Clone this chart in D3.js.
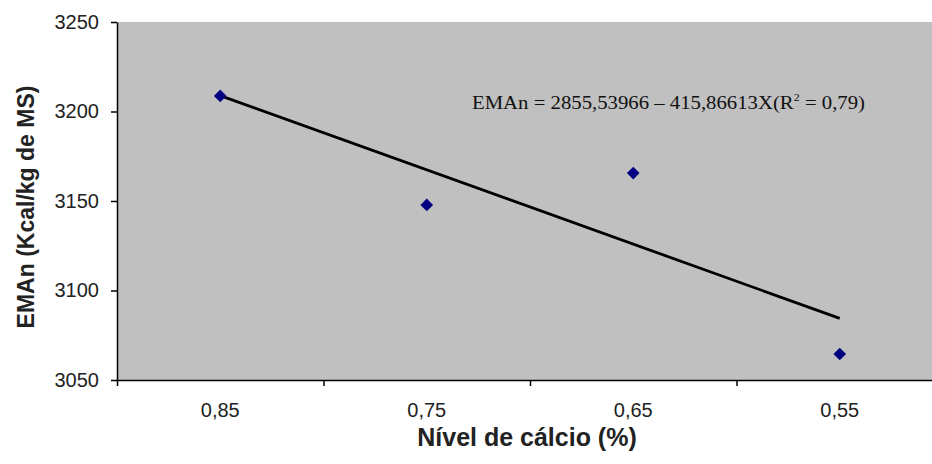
<!DOCTYPE html>
<html lang="pt">
<head>
  <meta charset="UTF-8">
  <title>EMAn x Nível de cálcio</title>
  <script src="https://d3js.org/d3.v7.min.js"></script>
  <style>
    body { margin: 0; background: #fff; }
    svg text { font-family: "Liberation Sans", Arial, sans-serif; fill: #222; }
    .axis path, .axis line { stroke: #000; stroke-width: 1.5; }
  </style>
</head>
<body>
  <svg id="chart" width="932" height="464"></svg>

  <script>
    // data
    const categories = ["0,85", "0,75", "0,65", "0,55"];
    const emanValues = [3208.7, 3147.8, 3165.6, 3064.5];
    const yTicks = [3050, 3100, 3150, 3200, 3250];
    const xTitle = "Nível de cálcio (%)";
    const yTitle = "EMAn (Kcal/kg de MS)";

    const svg = d3.select("#chart"),
      margin = {top: 22, right: -11, bottom: 84, left: 117},
      width = +svg.attr("width") - margin.left - margin.right,
      height = +svg.attr("height") - margin.top - margin.bottom;

    const chart = svg.append("g")
      .attr("transform", `translate(${margin.left},${margin.top})`);

    const x = d3.scaleBand().domain(categories).range([0, width]);
    const xEdges = d3.scaleLinear().domain([0, categories.length]).range([0, width]);
    const y = d3.scaleLinear().domain([3050, 3250]).range([height, 0]);

    chart.append("rect")
      .attr("width", width).attr("height", height)
      .attr("fill", "#c0c0c0");

    // category tick marks sit between the categories
    chart.append("g")
      .attr("class", "axis")
      .attr("transform", `translate(0,${height})`)
      .call(d3.axisBottom(xEdges).ticks(categories.length).tickSize(6).tickSizeOuter(0).tickFormat(""));

    chart.append("g")
      .attr("transform", `translate(0,${height})`)
      .call(d3.axisBottom(x).tickSize(0).tickPadding(23))
      .call(g => g.select(".domain").remove())
      .selectAll("text")
      .style("font-size", "20px");

    chart.append("g")
      .attr("class", "axis")
      .call(d3.axisLeft(y).tickValues(yTicks).tickFormat(d3.format("d"))
        .tickSize(6).tickSizeOuter(0).tickPadding(12))
      .selectAll("text")
      .style("font-size", "20px");

    // linear trend over category positions 1..n (like the spreadsheet trendline)
    const pts = emanValues.map((v, i) => [i + 1, v]);
    const mx = d3.mean(pts, p => p[0]), my = d3.mean(pts, p => p[1]);
    const slope = d3.sum(pts, p => (p[0] - mx) * (p[1] - my)) / d3.sum(pts, p => (p[0] - mx) ** 2);
    const fit = i => my + slope * (i + 1 - mx);

    const cx = c => x(c) + x.bandwidth() / 2;
    const first = 0, last = categories.length - 1;

    chart.append("line")
      .attr("x1", cx(categories[first])).attr("y1", y(fit(first)))
      .attr("x2", cx(categories[last])).attr("y2", y(fit(last)))
      .attr("stroke", "#000").attr("stroke-width", 2.8);

    chart.selectAll(".pt")
      .data(categories.map((c, i) => ({c, v: emanValues[i]})))
      .enter().append("path")
      .attr("class", "pt")
      .attr("d", d3.symbol(d3.symbolSquare, 80))
      .attr("transform", d => `translate(${cx(d.c)},${y(d.v)}) rotate(45)`)
      .attr("fill", "#000080");

    const eq = chart.append("text")
      .attr("x", 355).attr("y", 87)
      .attr("textLength", 393)
      .attr("lengthAdjust", "spacingAndGlyphs")
      .style("font-family", "'Liberation Serif', 'Times New Roman', serif")
      .style("font-size", "19px")
      .style("fill", "#111");
    eq.append("tspan").text("EMAn = 2855,53966 \u2013 415,86613X(R");
    eq.append("tspan").attr("dy", -8).style("font-size", "11px").text("2");
    eq.append("tspan").attr("dy", 8).text(" = 0,79)");

    svg.append("text")
      .attr("x", 527).attr("y", 446)
      .attr("text-anchor", "middle")
      .style("font-size", "25px").style("font-weight", "bold")
      .text(xTitle);

    svg.append("text")
      .attr("transform", "rotate(-90)")
      .attr("x", -207).attr("y", 34)
      .attr("text-anchor", "middle")
      .style("font-size", "23px").style("font-weight", "bold")
      .text(yTitle);
  </script>
</body>
</html>
